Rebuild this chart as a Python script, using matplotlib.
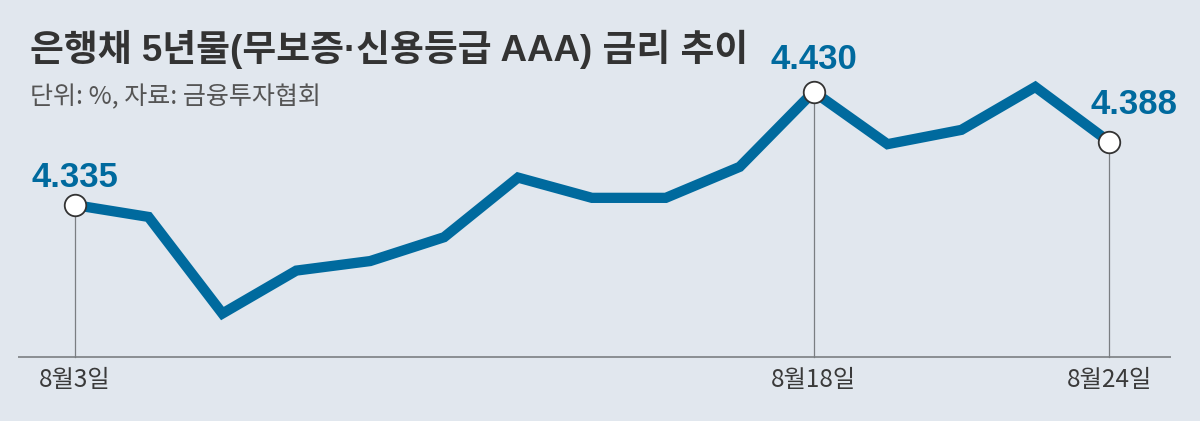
import matplotlib
matplotlib.use("Agg")
import matplotlib.pyplot as plt

# ---- data ----
dates = ["8월3일", "8월4일", "8월7일", "8월8일", "8월9일", "8월10일", "8월11일",
         "8월14일", "8월16일", "8월17일", "8월18일", "8월21일", "8월22일",
         "8월23일", "8월24일"]
rates = [4.335, 4.325, 4.244, 4.280, 4.288, 4.308, 4.358,
         4.341, 4.341, 4.367, 4.430, 4.386, 4.398, 4.434, 4.388]
highlight_idx = [0, 10, 14]
title = "은행채 5년물(무보증·신용등급 AAA) 금리 추이"
subtitle = "단위: %, 자료: 금융투자협회"

BG = "#e1e7ee"
BLUE = "#006a9e"
DARK = "#333333"

plt.rcParams['font.family'] = ['Noto Sans CJK KR', 'DejaVu Sans']

W, H = 1200, 421
fig = plt.figure(figsize=(W / 100, H / 100), dpi=100, facecolor=BG)
ax = fig.add_axes([0, 0, 1, 1])
ax.set_facecolor(BG)
for s in ax.spines.values():
    s.set_visible(False)
ax.set_xticks([])
ax.set_yticks([])

# pixel mapping (layout)
x0_px, dx_px = 74.6, 73.9
y_ref_px, y_ref_val, val_per_px = 205.0, 4.335, 0.0008385
ax.set_xlim(-x0_px / dx_px, (W - x0_px) / dx_px)
ax.set_ylim(y_ref_val - (H - y_ref_px) * val_per_px, y_ref_val + y_ref_px * val_per_px)

base_val = y_ref_val - (356.5 - y_ref_px) * val_per_px
xs = list(range(len(rates)))

# baseline
ax.plot([(18.4 - x0_px) / dx_px, (1171 - x0_px) / dx_px], [base_val, base_val],
        color="#8a8e92", lw=1.4, zorder=1, solid_capstyle="butt")

# vertical guide lines
for i in highlight_idx:
    ax.plot([xs[i], xs[i]], [base_val, rates[i]], color="#7a7e82", lw=0.9, zorder=1)

# main line
ax.plot(xs, rates, color=BLUE, lw=7.4, zorder=2, solid_joinstyle="miter",
        solid_capstyle="butt")

# markers
ax.plot([xs[i] for i in highlight_idx], [rates[i] for i in highlight_idx],
        linestyle="none", marker="o", markersize=15.5, markerfacecolor="white",
        markeredgecolor=DARK, markeredgewidth=1.3, zorder=3)

# value labels
offsets = {0: (0, 20), 10: (0, 23), 14: (18, 27)}
for i in highlight_idx:
    ax.annotate(f"{rates[i]:.3f}", (xs[i], rates[i]), xytext=offsets[i],
                textcoords="offset points", ha="center", va="center",
                color=BLUE, fontsize=25, fontweight="bold",
                family=["Liberation Sans", "DejaVu Sans"], zorder=4)

# x labels
for i in highlight_idx:
    ax.annotate(dates[i], (xs[i], base_val), xytext=(0, -17),
                textcoords="offset points", ha="center", va="center",
                color="#3a3a3a", fontsize=17.5)

# title and subtitle
fig.text(30 / W, 1 - 49 / H, title, ha="left", va="center", fontsize=26.5,
         fontweight="bold", color=DARK,
         family=["Liberation Sans", "Noto Sans CJK KR", "DejaVu Sans"])
fig.text(30 / W, 1 - 97 / H, subtitle, ha="left", va="center", fontsize=18,
         color="#555555")

fig.savefig("out.png", dpi=100, facecolor=BG)
